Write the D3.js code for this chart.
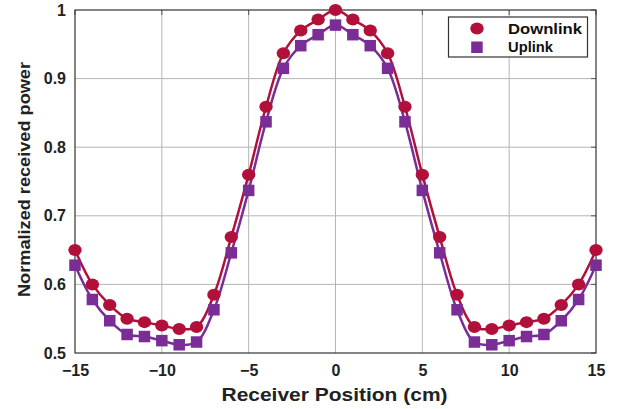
<!DOCTYPE html>
<html><head><meta charset="utf-8">
<script src="https://cdn.jsdelivr.net/npm/d3@7"></script>
<style>body{margin:0;background:#fff}svg{display:block}text{font-family:Arial,"Liberation Sans",sans-serif;font-weight:bold}</style>
</head><body>
<svg id="c" width="623" height="409"></svg>
<script>
const positions = [-15,-14,-13,-12,-11,-10,-9,-8,-7,-6,-5,-4,-3,-2,-1,0,1,2,3,4,5,6,7,8,9,10,11,12,13,14,15];
const downlink = [0.650,0.600,0.570,0.550,0.545,0.540,0.535,0.538,0.585,0.669,0.760,0.859,0.937,0.970,0.986,1.000,0.986,0.970,0.937,0.859,0.760,0.669,0.585,0.538,0.535,0.540,0.545,0.550,0.570,0.600,0.650];
const uplink = [0.628,0.578,0.547,0.527,0.524,0.518,0.512,0.516,0.563,0.646,0.737,0.837,0.915,0.948,0.964,0.978,0.964,0.948,0.915,0.837,0.737,0.646,0.563,0.516,0.512,0.518,0.524,0.527,0.547,0.578,0.628];
const xTicks = [-15,-10,-5,0,5,10,15];
const yTicks = [0.5,0.6,0.7,0.8,0.9,1];
const seriesNames = ["Downlink","Uplink"];
const colors = ["#B0103A","#7B2D96"];

const svg = d3.select("#c");
const L=75,R=596,T=10,B=353;
const x = d3.scaleLinear().domain([-15,15]).range([L,R]);
const y = d3.scaleLinear().domain([0.5,1]).range([B,T]);

// grid
svg.append("g").selectAll("line").data(xTicks.slice(1,-1)).join("line")
  .attr("x1",d=>x(d)).attr("x2",d=>x(d)).attr("y1",T).attr("y2",B)
  .attr("stroke","#b5b5b5").attr("stroke-width",1);
svg.append("g").selectAll("line").data(yTicks.slice(1,-1)).join("line")
  .attr("x1",L).attr("x2",R).attr("y1",d=>y(d)).attr("y2",d=>y(d))
  .attr("stroke","#b5b5b5").attr("stroke-width",1);

// axes
const xa = svg.append("g").attr("transform",`translate(0,${B})`)
  .call(d3.axisBottom(x).tickValues(xTicks).tickSize(0).tickPadding(12).tickFormat(d3.format("d")));
const ya = svg.append("g").attr("transform",`translate(${L},0)`)
  .call(d3.axisLeft(y).tickValues(yTicks).tickSize(0).tickPadding(9).tickFormat(d=>d===1?"1":d3.format(".1f")(d)));
[xa,ya].forEach(g=>{g.select(".domain").remove();g.selectAll("text").attr("font-size",16).attr("fill","#222").style("font-weight","bold");});
// right ticks
svg.append("g").selectAll("line").data(yTicks).join("line")
  .attr("x1",R-5).attr("x2",R).attr("y1",d=>y(d)).attr("y2",d=>y(d)).attr("stroke","#555");
svg.append("g").selectAll("line").data(xTicks).join("line")
  .attr("x1",d=>x(d)).attr("x2",d=>x(d)).attr("y1",T).attr("y2",T+5).attr("stroke","#555");
svg.append("rect").attr("x",L).attr("y",T).attr("width",R-L).attr("height",B-T)
  .attr("fill","none").attr("stroke","#333").attr("stroke-width",1.2);

// lines
const data = [downlink, uplink];
const line = d3.line().x((d,i)=>x(positions[i])).y(d=>y(d)).curve(d3.curveCatmullRom.alpha(0.5));
[1,0].forEach(s=>{
  svg.append("path").datum(data[s]).attr("d",line).attr("fill","none")
    .attr("stroke",colors[s]).attr("stroke-width",2.5);
});
// markers
svg.append("g").selectAll("rect").data(uplink).join("rect")
  .attr("x",(d,i)=>x(positions[i])-5.75).attr("y",d=>y(d)-5.75).attr("width",11.5).attr("height",11.5)
  .attr("fill",colors[1]);
svg.append("g").selectAll("ellipse").data(downlink).join("ellipse")
  .attr("cx",(d,i)=>x(positions[i])).attr("cy",d=>y(d)).attr("rx",6.7).attr("ry",6)
  .attr("fill",colors[0]);

// legend
const lg = svg.append("g");
lg.append("rect").attr("x",448.5).attr("y",17).attr("width",139).attr("height",40)
  .attr("fill","#fff").attr("stroke","#333").attr("stroke-width",1.2);
lg.append("ellipse").attr("cx",477).attr("cy",28.5).attr("rx",6.7).attr("ry",6).attr("fill",colors[0]);
lg.append("rect").attr("x",471.2).attr("y",41.5).attr("width",11.5).attr("height",11.5).attr("fill",colors[1]);
lg.selectAll("text").data(seriesNames).join("text")
  .attr("x",508).attr("y",(d,i)=>28.5+i*18.8).attr("dy","0.36em")
  .attr("font-size",14).attr("fill","#111")
  .attr("textLength",(d,i)=>i===0?74:45).attr("lengthAdjust","spacingAndGlyphs").text(d=>d);

// axis titles
svg.append("text").attr("x",(L+R)/2-1).attr("y",401).attr("text-anchor","middle")
  .attr("font-size",17.5).attr("fill","#222")
  .attr("textLength",226).attr("lengthAdjust","spacingAndGlyphs").text("Receiver Position (cm)");
svg.append("text").attr("transform",`translate(30,${(T+B)/2-2}) rotate(-90)`).attr("text-anchor","middle")
  .attr("font-size",16).attr("fill","#222")
  .attr("textLength",235).attr("lengthAdjust","spacingAndGlyphs").text("Normalized received power");
</script>
</body></html>
